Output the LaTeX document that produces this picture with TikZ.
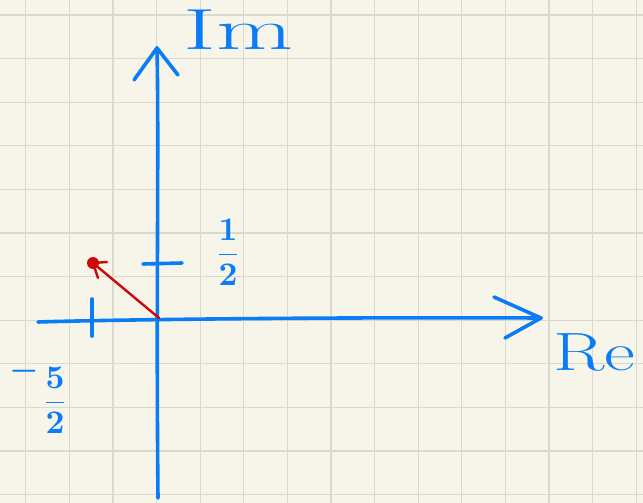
\documentclass[tikz,border=0pt]{standalone}
\usepackage{amsmath}
\definecolor{paper}{RGB}{247,245,234}
\definecolor{gridc}{RGB}{218,217,205}
\definecolor{penblue}{RGB}{10,124,245}
\definecolor{penred}{RGB}{204,8,8}
\tikzset{
  gridline/.style={draw=gridc, line width=1.2pt},
  axis/.style={draw=penblue, line width=3.6pt, line cap=round, line join=round},
  vec/.style={draw=penred, line width=2.4pt, line cap=round},
  lab/.style={text=penblue, inner sep=0pt}
}
\begin{document}
\begin{tikzpicture}[x=1pt,y=-1pt]
\fill[paper] (0,0) rectangle (643,503);
\useasboundingbox (0,0) rectangle (643,503);
% grid
\foreach \k in {0,...,14} \draw[gridline] ({25.7+43.6*\k},0) -- ({25.7+43.6*\k},503);
\foreach \k in {0,...,11} \draw[gridline] (0,{15+43.6*\k}) -- (643,{15+43.6*\k});
% coordinates
\coordinate (O) at (159,318);
\coordinate (ytop) at (157,48);
\coordinate (ybot) at (158,498);
\coordinate (yarmL) at (134,80);
\coordinate (yarmR) at (178,75);
\coordinate (xleft) at (38,322);
\coordinate (xright) at (541,318);
\coordinate (xarmU) at (494,297);
\coordinate (xarmD) at (505,338);
\coordinate (t1a) at (143,264);
\coordinate (t1b) at (182,263);
\coordinate (t2a) at (92,299);
\coordinate (t2b) at (92,336);
\coordinate (P) at (93,263);
\coordinate (parmA) at (107,262);
\coordinate (parmB) at (98,278);
% axes
\draw[axis] (ybot) .. controls (156,300) and (159,150) .. (ytop);
\draw[axis] (yarmL) -- (ytop) -- (yarmR);
\draw[axis] (xleft) .. controls (100,320) and (300,317) .. (xright);
\draw[axis] (xarmU) -- (xright) -- (xarmD);
% ticks
\draw[axis] (t1a) -- (t1b);
\draw[axis] (t2a) -- (t2b);
% red vector
\draw[vec] (O) -- (P);
\draw[vec] (parmA) -- (P) -- (parmB);
\fill[penred] (P) circle (6);
% labels
\node[lab, anchor=base west, font=\fontsize{58}{66}\selectfont, xscale=1.72] (im) at (183,50) {Im};
\node[lab, anchor=base west, font=\fontsize{54}{62}\selectfont, xscale=1.4] (re) at (553,370) {Re};
\node[lab, scale=3.3] (half) at (228,252) {$\dfrac{\mathbf{1}}{\mathbf{2}}$};
\node[lab, scale=3.3] (fivehalf) at (55,400) {$\dfrac{\mathbf{5}}{\mathbf{2}}$};
\node[lab, scale=3.3, anchor=east] (minus) at ([xshift=-1pt]fivehalf.west |- 0,371) {$\boldsymbol{-}$};
\end{tikzpicture}
\end{document}
